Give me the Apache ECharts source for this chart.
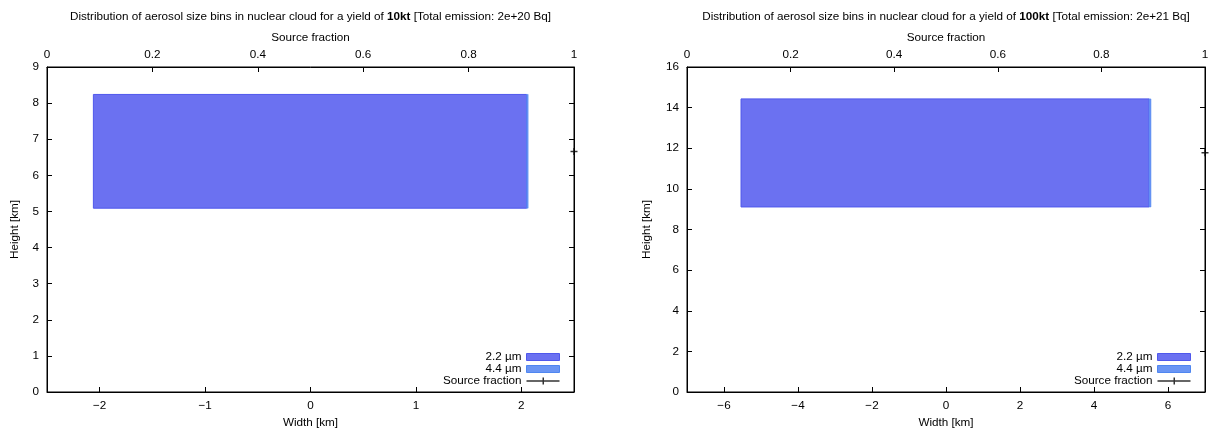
<!DOCTYPE html>
<html>
<head>
<meta charset="utf-8">
<script src="https://cdn.jsdelivr.net/npm/echarts@6/dist/echarts.min.js"></script>
<style>html,body{margin:0;padding:0;background:#fff}#c{width:1210px;height:430px}</style>
</head>
<body>
<div id="c"></div>
<script>
// ---- data ----
const yieldLabels = ['10kt', '100kt'];
const emissions = ['2e+20', '2e+21'];
const widthRange = [[-2.5, 2.5], [-7, 7]];
const widthTicks = [[-2, -1, 0, 1, 2], [-6, -4, -2, 0, 2, 4, 6]];
const heightRange = [[0, 9], [0, 16]];
const heightInterval = [1, 2];
const fractionTicks = [0, 0.2, 0.4, 0.6, 0.8, 1];
// [x0, x1, y0, y1]  (km)
const bin22 = [[-2.06, 2.05, 5.09, 8.24], [-5.54, 5.49, 9.11, 14.43]];
const bin44 = [[2.05, 2.065, 5.09, 8.24], [5.49, 5.54, 9.11, 14.43]];
// [source fraction, height]
const sourceFraction = [[1, 6.66], [1, 11.78]];

const FONT = 'Liberation Sans, Arial, sans-serif';
const FS = 11.7;
const C22 = '#6b71f1', C22B = '#4f58ec';
const C44 = '#6a95f4', C44B = '#4f86f0';

const grids = [
  {left: 47, top: 67, width: 527, height: 325},
  {left: 687, top: 67, width: 518, height: 325}
];

const minus = v => String(v).replace('-', '\u2212');
const lbl = {color: '#000', fontFamily: FONT, fontSize: FS};

const option = {
  animation: false,
  backgroundColor: '#fff',
  title: [], grid: [], xAxis: [], yAxis: [], series: [], legend: []
};

function rectRender(params, api) {
  const p0 = api.coord([api.value(0), api.value(3)]);
  const p1 = api.coord([api.value(1), api.value(2)]);
  return {
    type: 'rect',
    shape: {x: p0[0], y: p0[1], width: p1[0] - p0[0], height: p1[1] - p0[1]},
    style: api.style()
  };
}

const srcIcon = 'path://M0,4.25h33v1.5h-33z M16,1.5h1.5v7h-1.5z';
const srcSymbol = 'path://M0,2.4h6v1.2h-6z M2.4,0h1.2v6h-1.2z';

for (let i = 0; i < 2; i++) {
  const g = grids[i];
  option.grid.push({left: g.left, top: g.top, width: g.width, height: g.height,
    outerBoundsMode: 'none', containLabel: false,
    show: true, borderColor: '#000', borderWidth: 1, backgroundColor: 'transparent'});
  option.title.push({
    text: 'Distribution of aerosol size bins in nuclear cloud for a yield of {b|' + yieldLabels[i] + '} [Total emission: ' + emissions[i] + ' Bq]',
    left: g.left + g.width / 2, top: 11, textAlign: 'center', padding: 0,
    textStyle: {fontFamily: FONT, fontSize: FS, fontWeight: 'normal', color: '#000',
      rich: {b: {fontFamily: FONT, fontSize: FS, fontWeight: 'bold', color: '#000'}}}
  });
  // bottom width axis
  option.xAxis.push({
    gridIndex: i, type: 'value', position: 'bottom',
    min: widthRange[i][0], max: widthRange[i][1],
    name: 'Width [km]', nameLocation: 'middle', nameGap: 24,
    nameTextStyle: {color: '#000', fontFamily: FONT, fontSize: FS},
    axisLine: {show: true, onZero: false, lineStyle: {color: '#000'}},
    axisTick: {show: true, inside: true, length: 5, lineStyle: {color: '#000'}, customValues: widthTicks[i]},
    axisLabel: Object.assign({margin: 8, formatter: v => minus(v), customValues: widthTicks[i]}, lbl),
    splitLine: {show: false}
  });
  // top source fraction axis
  option.xAxis.push({
    gridIndex: i, type: 'value', position: 'top',
    min: 0, max: 1, interval: 0.2,
    name: 'Source fraction', nameLocation: 'middle', nameGap: 22,
    nameTextStyle: {color: '#000', fontFamily: FONT, fontSize: FS},
    axisLine: {show: true, onZero: false, lineStyle: {color: '#000'}},
    axisTick: {show: true, inside: true, length: 5, lineStyle: {color: '#000'}, customValues: fractionTicks},
    axisLabel: Object.assign({margin: 6, formatter: v => String(+(+v).toFixed(1)), customValues: fractionTicks}, lbl),
    splitLine: {show: false}
  });
  // left height axis
  option.yAxis.push({
    gridIndex: i, type: 'value', position: 'left',
    min: heightRange[i][0], max: heightRange[i][1], interval: heightInterval[i],
    name: 'Height [km]', nameLocation: 'middle', nameGap: i === 0 ? 26 : 34,
    nameTextStyle: {color: '#000', fontFamily: FONT, fontSize: FS},
    axisLine: {show: true, onZero: false, lineStyle: {color: '#000'}},
    axisTick: {show: true, inside: true, length: 5, lineStyle: {color: '#000'}},
    axisLabel: Object.assign({margin: 8}, lbl),
    splitLine: {show: false}
  });
  // right mirror ticks
  option.yAxis.push({
    gridIndex: i, type: 'value', position: 'right',
    min: heightRange[i][0], max: heightRange[i][1], interval: heightInterval[i],
    axisLine: {show: true, onZero: false, lineStyle: {color: '#000'}},
    axisTick: {show: true, inside: true, length: 5, lineStyle: {color: '#000'}},
    axisLabel: {show: false}, splitLine: {show: false}
  });

  option.series.push({
    name: '2.2 \u00b5m', type: 'custom', xAxisIndex: 2 * i, yAxisIndex: 2 * i,
    renderItem: rectRender, encode: {x: [0, 1], y: [2, 3]},
    itemStyle: {color: C22, borderColor: C22B, borderWidth: 1},
    data: [bin22[i]]
  });
  option.series.push({
    name: '4.4 \u00b5m', type: 'custom', xAxisIndex: 2 * i, yAxisIndex: 2 * i,
    renderItem: rectRender, encode: {x: [0, 1], y: [2, 3]},
    itemStyle: {color: C44, borderColor: C44B, borderWidth: 0.5},
    data: [bin44[i]]
  });
  option.series.push({
    name: 'Source fraction', type: 'scatter', xAxisIndex: 2 * i + 1, yAxisIndex: 2 * i,
    symbol: srcSymbol, symbolSize: 7, clip: false,
    itemStyle: {color: '#000'},
    data: [sourceFraction[i]]
  });

  option.legend.push({
    orient: 'vertical', align: 'right', padding: 0,
    right: 1210 - (g.left + g.width) + 14, top: 351,
    itemWidth: 33, itemHeight: 7, itemGap: 0,
    selectedMode: false,
    textStyle: {color: '#000', fontFamily: FONT, fontSize: FS, lineHeight: 12, height: 12, padding: 0},
    data: [
      {name: '2.2 \u00b5m', icon: 'rect', itemStyle: {color: C22, borderColor: C22B, borderWidth: 1}},
      {name: '4.4 \u00b5m', icon: 'rect', itemStyle: {color: C44, borderColor: C44B, borderWidth: 1}},
      {name: 'Source fraction', icon: srcIcon, itemStyle: {color: '#000'}}
    ]
  });
}

const chart = echarts.init(document.getElementById('c'), null, {renderer: 'canvas'});
chart.setOption(option);
</script>
</body>
</html>
